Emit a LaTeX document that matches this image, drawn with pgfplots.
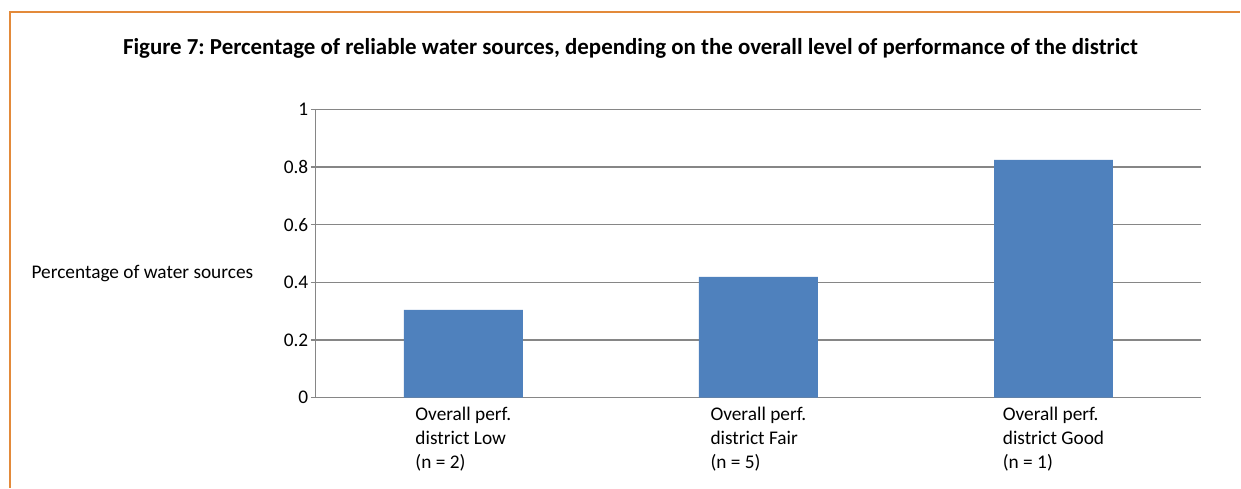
\documentclass[border=0pt]{standalone}
\usepackage{fontspec}
\setmainfont{Carlito}
\usepackage{pgfplots}
\pgfplotsset{compat=1.18}
\definecolor{barblue}{HTML}{4F81BD}
\definecolor{gridgray}{HTML}{868686}
\definecolor{frameorange}{HTML}{E38A3A}
\frenchspacing
\begin{document}
\begin{tikzpicture}[x=1bp,y=1bp]
% page extent
\path (0,0) rectangle (1241,488);
% frame (top and left edges)
\draw[frameorange, line width=2bp] (10.5,0) -- (10.5,475.5) -- (1241,475.5);
% title
\node[font=\fontsize{23}{27}\selectfont\bfseries] at (631,440)
  {Figure 7: Percentage of reliable water sources, depending on the overall level of performance of the district};
% y-axis label
\node[font=\fontsize{19.4}{24}\selectfont] at (142.5,214) {Percentage of water sources};
\begin{axis}[
  at={(316bp,90bp)}, anchor=south west,
  scale only axis, width=886bp, height=288.5bp,
  xmin=-0.5, xmax=2.5, ymin=0, ymax=1,
  axis x line=bottom, axis y line=left,
  axis line style={-, gridgray, line width=1.2bp},
  ytick={0,0.2,0.4,0.6,0.8,1},
  ymajorgrids, grid style={gridgray, line width=1.2bp},
  major tick length=5bp, tick align=outside,
  ytick style={gridgray, line width=1.2bp},
  xtick={0,1,2}, xtick style={draw=none},
  xticklabels={{Overall perf.\\district Low\\(n = 2)},{Overall perf.\\district Fair\\(n = 5)},{Overall perf.\\district Good\\(n = 1)}},
  xticklabel style={align=left, anchor=north, yshift=-1bp},
  ticklabel style={font=\fontsize{19.4}{24}\selectfont},
  yticklabel style={xshift=1bp},
  /pgf/number format/assume math mode=true,
  clip=false,
]
\addplot[ybar, bar width=119bp, fill=barblue, draw=none] coordinates {(0,0.305) (1,0.419) (2,0.825)};
\end{axis}
\end{tikzpicture}
\end{document}
